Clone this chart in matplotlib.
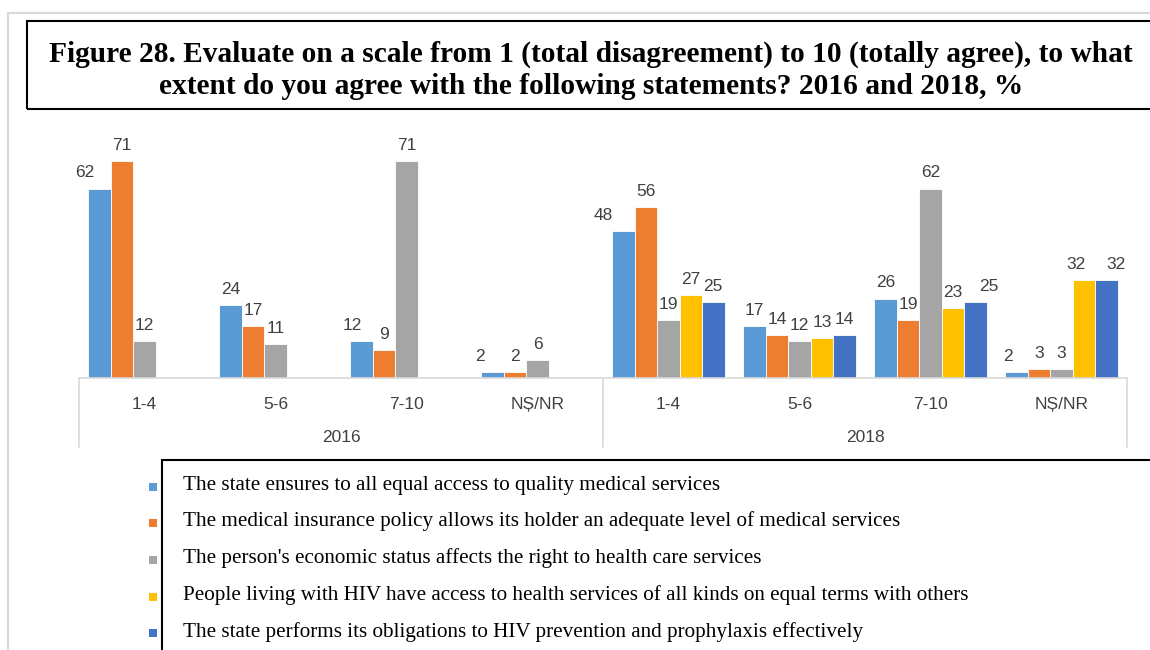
import matplotlib
matplotlib.use("Agg")
import matplotlib.pyplot as plt
from matplotlib.lines import Line2D
from matplotlib.patches import Rectangle
import numpy as np

# ---- data ----
years = ["2016", "2018"]
categories = ["1-4", "5-6", "7-10", "NȘ/NR"]
series_names = [
    "The state ensures to all equal access to quality medical services",
    "The medical insurance policy allows its holder an adequate level of medical services",
    "The person's economic status affects the right to health care services",
    "People living with HIV have access to health services of all kinds on equal terms with others",
    "The state performs its obligations to HIV prevention and prophylaxis effectively",
]
colors = ["#5B9BD5", "#ED7D31", "#A5A5A5", "#FFC000", "#4472C4"]
s1 = [62, 24, 12, 2, 48, 17, 26, 2]
s2 = [71, 17, 9, 2, 56, 14, 19, 3]
s3 = [12, 11, 71, 6, 19, 12, 62, 3]
s4 = [None, None, None, None, 27, 13, 23, 32]
s5 = [None, None, None, None, 25, 14, 25, 32]
series = [s1, s2, s3, s4, s5]

# manual horizontal nudges of some data labels (points), as in the original
label_dx = {(0, 0): -11, (0, 2): -7, (0, 3): -9, (0, 4): -15,
            (4, 6): 10, (0, 7): -6, (3, 7): -6, (4, 7): 7}

title = ("Figure 28. Evaluate on a scale from 1 (total disagreement) to 10 (totally agree), to what\n"
         "extent do you agree with the following statements? 2016 and 2018, %")

W, H = 1150, 650
fig = plt.figure(figsize=(W / 100, H / 100), dpi=100)

def fx(px):
    return px / W

def fy(py):
    return 1 - py / H

# outer light frame
fig.add_artist(Line2D([fx(8), fx(8)], [fy(13), fy(650)], color="#D9D9D9", lw=1.5))
fig.add_artist(Line2D([fx(8), fx(1150)], [fy(13), fy(13)], color="#D9D9D9", lw=1.5))

# title box
fig.add_artist(Rectangle((fx(27), fy(109)), fx(1156) - fx(27), fy(21) - fy(109),
                         fill=False, edgecolor="black", lw=1.5))
fig.text(fx(591), fy(70), title, ha="center", va="center", fontsize=21.2,
         fontweight="bold", family="Liberation Serif", linespacing=1.24)

# axes
ax_left, ax_right = 79, 1127
base_y = 378
ymax = 80
px_per_unit = 3.056
top_y = base_y - ymax * px_per_unit
ax = fig.add_axes([fx(ax_left), fy(base_y), fx(ax_right) - fx(ax_left), fy(top_y) - fy(base_y)])
n_cat = len(years) * len(categories)
ax.set_xlim(-0.5, n_cat - 0.5)
ax.set_ylim(0, ymax)
for sp in ["top", "right", "left"]:
    ax.spines[sp].set_visible(False)
ax.spines["bottom"].set_color("#D9D9D9")
ax.spines["bottom"].set_linewidth(1.2)
ax.set_yticks([])
ax.tick_params(axis="x", length=0)

x = np.arange(n_cat)
w = 0.171
for i, (vals, col) in enumerate(zip(series, colors)):
    idx = [j for j, v in enumerate(vals) if v is not None]
    xs = [x[j] + (i - 2) * w for j in idx]
    vs = [vals[j] for j in idx]
    bars = ax.bar(xs, vs, width=w, color=col, edgecolor="white", linewidth=0.6)
    for j, b, v in zip(idx, bars, vs):
        ax.annotate(str(v), (b.get_x() + b.get_width() / 2, v),
                    xytext=(label_dx.get((i, j), 0), 5.8),
                    textcoords="offset points", ha="center", va="bottom",
                    fontsize=12.5, color="#404040", family="Liberation Sans")

ax.set_xticks(x)
ax.set_xticklabels(categories * len(years), fontsize=12.5, color="#404040",
                   family="Liberation Sans")
ax.tick_params(axis="x", pad=14)

# group labels and separators
for g, yr in enumerate(years):
    fig.text(fx(ax_left + (g + 0.5) * (ax_right - ax_left) / 2), fy(437), yr,
             ha="center", va="center", fontsize=12.5, color="#404040", family="Liberation Sans")
for bx in [-0.5, len(categories) - 0.5, n_cat - 0.5]:
    ax.add_line(Line2D([bx, bx], [0, -(447 - base_y) / px_per_unit], color="#D9D9D9",
                       lw=1.2, clip_on=False))

# legend box
fig.add_artist(Rectangle((fx(162), fy(660)), fx(1160) - fx(162), fy(460) - fy(660),
                         fill=False, edgecolor="black", lw=1.5))
rows = [485.5, 521.5, 558.5, 595.5, 632]
for name, col, ry in zip(series_names, colors, rows):
    fig.add_artist(Rectangle((fx(149), fy(ry + 4 + 1)), fx(8), 8 / H, facecolor=col,
                             edgecolor="none"))
    fig.text(fx(183), fy(ry), name, ha="left", va="center", fontsize=15.2,
             family="Liberation Serif", color="black")

fig.savefig("out.png", dpi=100)
